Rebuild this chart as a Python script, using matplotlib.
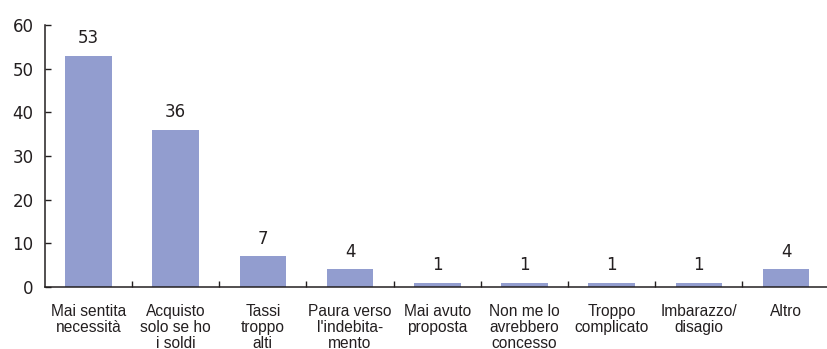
import matplotlib
matplotlib.use("Agg")
import matplotlib.pyplot as plt
import numpy as np

categories = [
    "Mai sentita\nnecessità",
    "Acquisto\nsolo se ho\ni soldi",
    "Tassi\ntroppo\nalti",
    "Paura verso\nl'indebita-\nmento",
    "Mai avuto\nproposta",
    "Non me lo\navrebbero\nconcesso",
    "Troppo\ncomplicato",
    "Imbarazzo/\ndisagio",
    "Altro",
]
values = [53, 36, 7, 4, 1, 1, 1, 1, 4]
y_ticks = [0, 10, 20, 30, 40, 50, 60]

plt.rcParams["font.family"] = ["Liberation Sans", "DejaVu Sans"]
num_font = ["DejaVu Sans"]
text_color = "#231f20"
bar_color = "#929dcf"

fig = plt.figure(figsize=(8.27, 3.49), dpi=100)
ax = fig.add_axes([0.0542, 0.178, 0.949, 0.750])

x = np.arange(len(categories))
ax.bar(x, values, width=0.535, color=bar_color, zorder=2)

for xi, v in zip(x, values):
    ax.annotate(str(v), (xi, v), xytext=(0, 6.3), textcoords="offset points",
                ha="center", va="bottom", fontsize=12, family=num_font,
                color=text_color)

ax.set_xlim(-0.5, len(categories) - 0.5)
ax.set_ylim(0, 60)
ax.set_yticks(y_ticks)
ax.set_yticklabels([str(t) for t in y_ticks], fontsize=12, family=num_font,
                   color=text_color)

ax.set_xticks(x)
ax.set_xticklabels(categories, fontsize=11.2, color=text_color, linespacing=1.07,
                   va="top")
ax.set_xticks(x[:-1] + 0.5, minor=True)
ax.tick_params(axis="x", which="major", length=0, pad=12.2)
ax.tick_params(axis="x", which="minor", direction="in", length=4, width=1,
               color=text_color)
ax.tick_params(axis="y", direction="in", length=4, width=1, color=text_color,
               pad=8)

for side in ("top", "right"):
    ax.spines[side].set_visible(False)
for side in ("left", "bottom"):
    ax.spines[side].set_color(text_color)
    ax.spines[side].set_linewidth(1.1)

fig.savefig("out.png", dpi=100)
